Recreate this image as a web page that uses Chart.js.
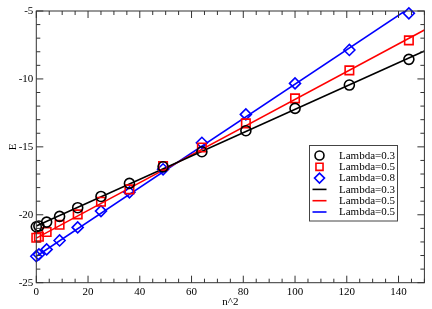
<!DOCTYPE html>
<html>
<head>
<meta charset="utf-8">
<script src="https://cdn.jsdelivr.net/npm/chart.js@4/dist/chart.umd.min.js"></script>
<style>
  html, body { margin: 0; padding: 0; background: #fff; }
  #wrap { width: 432px; height: 309px; }
</style>
</head>
<body>
<div id="wrap"><canvas id="energyChart" width="432" height="309"></canvas></div>
<script>
// x values (n^2) shared by all three symbol series
const nSquared = [0, 1, 4, 9, 16, 25, 36, 49, 64, 81, 100, 121, 144];

// E values
const eLambda03 = [-20.88, -20.83, -20.54, -20.12, -19.48, -18.65, -17.69, -16.47, -15.36, -13.81, -12.17, -10.45, -8.56];
const eLambda05 = [-21.69, -21.62, -21.27, -20.74, -19.97, -19.04, -18.13, -16.41, -15.05, -13.27, -11.43, -9.37, -7.16];
const eLambda08 = [-23.05, -22.92, -22.55, -21.89, -20.93, -19.73, -18.35, -16.65, -14.70, -12.61, -10.33, -7.87, -5.17];

// straight fit lines, endpoints at the x-axis limits
const fitX = [0, 150];
const fitLambda03 = [-20.83, -7.95];
const fitLambda05 = [-21.72, -6.40];
const fitLambda08 = [-23.06, -4.05];

// legend labels (as in the original, last one says 0.5)
const legendLabels = ['Lambda=0.3', 'Lambda=0.5', 'Lambda=0.8', 'Lambda=0.3', 'Lambda=0.5', 'Lambda=0.5'];

// axis ticks
const xTickStep = 20;
const yTickStep = 5;
const xMinorStep = 5;
const yMinorStep = 1;

const FONT = "'Liberation Serif', 'DejaVu Serif', serif";

function toPoints(xs, ys) {
    return xs.map((x, i) => ({ x: x, y: ys[i] }));
}

function symbolSet(label, ys, color, style, radius) {
    return {
        type: 'scatter',
        label: label,
        data: toPoints(nSquared, ys),
        showLine: false,
        pointStyle: style,
        pointRadius: radius,
        pointHoverRadius: radius,
        pointBorderWidth: 1.6,
        pointBorderColor: color,
        pointBackgroundColor: 'rgba(0,0,0,0)',
        borderColor: color,
        backgroundColor: 'rgba(0,0,0,0)',
        clip: false
    };
}

function fitSet(label, ys, color) {
    return {
        type: 'line',
        label: label,
        data: toPoints(fitX, ys),
        borderColor: color,
        borderWidth: 1.6,
        pointRadius: 0,
        fill: false,
        tension: 0,
        clip: 0
    };
}

const datasets = [
    symbolSet(legendLabels[0], eLambda03, '#000000', 'circle', 5),
    symbolSet(legendLabels[1], eLambda05, '#ff0000', 'rect', 6),
    symbolSet(legendLabels[2], eLambda08, '#0000ff', 'rectRot', 5.5),
    fitSet(legendLabels[3], fitLambda03, '#000000'),
    fitSet(legendLabels[4], fitLambda05, '#ff0000'),
    fitSet(legendLabels[5], fitLambda08, '#0000ff')
];

// frame, inward ticks on all four sides, and the boxed legend
const framePlugin = {
    id: 'frameAndLegend',
    afterDraw(chart) {
        const ctx = chart.ctx;
        const area = chart.chartArea;
        const xs = chart.scales.x;
        const ys = chart.scales.y;
        ctx.save();
        ctx.strokeStyle = '#333';
        ctx.lineWidth = 1;
        ctx.strokeRect(area.left, area.top, area.right - area.left, area.bottom - area.top);

        const major = 7, minor = 4;
        ctx.beginPath();
        for (let v = xs.min; v <= xs.max + 1e-9; v += xMinorStep) {
            const px = xs.getPixelForValue(v);
            const len = (v % xTickStep === 0) ? major : minor;
            ctx.moveTo(px, area.bottom); ctx.lineTo(px, area.bottom - len);
            ctx.moveTo(px, area.top); ctx.lineTo(px, area.top + len);
        }
        for (let v = ys.min; v <= ys.max + 1e-9; v += yMinorStep) {
            const py = ys.getPixelForValue(v);
            const len = (v % yTickStep === 0) ? major : minor;
            ctx.moveTo(area.left, py); ctx.lineTo(area.left + len, py);
            ctx.moveTo(area.right, py); ctx.lineTo(area.right - len, py);
        }
        ctx.stroke();

        // legend box
        const box = { left: 309.5, top: 145.5, width: 88, height: 75.5 };
        const rowH = 11.3;
        ctx.fillStyle = '#fff';
        ctx.fillRect(box.left, box.top, box.width, box.height);
        ctx.strokeStyle = '#444';
        ctx.strokeRect(box.left, box.top, box.width, box.height);

        ctx.font = '11px ' + FONT;
        ctx.textBaseline = 'middle';
        ctx.textAlign = 'left';
        chart.data.datasets.forEach((ds, i) => {
            const cy = box.top + 10 + i * rowH;
            const sx = box.left + 10;
            if (ds.type === 'scatter') {
                ctx.strokeStyle = ds.pointBorderColor;
                ctx.fillStyle = 'rgba(0,0,0,0)';
                ctx.lineWidth = 1.6;
                Chart.helpers.drawPoint(ctx, {
                    pointStyle: ds.pointStyle,
                    radius: ds.pointStyle === 'circle' ? 4.5 : 5,
                    rotation: 0,
                    borderWidth: 1.6
                }, sx, cy);
            } else {
                ctx.strokeStyle = ds.borderColor;
                ctx.lineWidth = 1.6;
                ctx.beginPath();
                ctx.moveTo(sx - 7, cy);
                ctx.lineTo(sx + 7, cy);
                ctx.stroke();
            }
            ctx.fillStyle = '#000';
            ctx.fillText(ds.label, box.left + 29.5, cy + 0.5);
        });
        ctx.restore();
    }
};

new Chart(document.getElementById('energyChart'), {
    type: 'scatter',
    data: { datasets: datasets },
    options: {
        responsive: false,
        animation: false,
        events: [],
        layout: { padding: { top: 11, right: 5.5, bottom: 0, left: 0 } },
        plugins: {
            legend: { display: false },
            tooltip: { enabled: false }
        },
        scales: {
            x: {
                type: 'linear',
                min: 0,
                max: 150,
                grid: { display: false, drawTicks: false },
                border: { display: false },
                ticks: {
                    stepSize: xTickStep,
                    includeBounds: false,
                    padding: 3,
                    color: '#000',
                    maxRotation: 0,
                    font: { family: FONT, size: 11 }
                },
                title: {
                    display: true,
                    text: 'n^2',
                    color: '#000',
                    padding: { top: 0, bottom: 0 },
                    font: { family: FONT, size: 11 }
                },
                afterFit(scale) { scale.height = 26.3; }
            },
            y: {
                type: 'linear',
                min: -25,
                max: -5,
                grid: { display: false, drawTicks: false },
                border: { display: false },
                ticks: {
                    stepSize: yTickStep,
                    padding: 3,
                    color: '#000',
                    font: { family: FONT, size: 11 }
                },
                title: {
                    display: true,
                    text: 'E',
                    color: '#000',
                    padding: { top: 6.4, bottom: 0 },
                    font: { family: FONT, size: 11 }
                },
                afterFit(scale) { scale.width = 36.3; }
            }
        }
    },
    plugins: [framePlugin]
});
</script>
</body>
</html>
